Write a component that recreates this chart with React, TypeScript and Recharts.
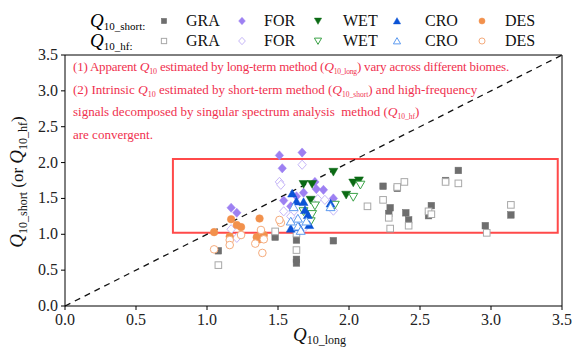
import React from 'react';
import { ScatterChart, Scatter, XAxis, YAxis, ReferenceLine, ReferenceArea } from 'recharts';

const TICKS = [0, 0.5, 1, 1.5, 2, 2.5, 3, 3.5];
const BIOMES = ['GRA', 'FOR', 'WET', 'CRO', 'DES'];

// [Q10_long, Q10_short] and [Q10_long, Q10_hf] per biome
const graShort = [[1.08, 0.77], [1.48, 0.96], [1.63, 0.92], [1.63, 0.65], [1.63, 0.6], [1.89, 0.91], [2.24, 1.67], [2.29, 1.37], [2.28, 1.29], [2.34, 1.64], [2.4, 1.3], [2.42, 1.2], [2.58, 1.4], [2.56, 1.26], [2.68, 1.75], [2.77, 1.89], [2.96, 1.12], [3.14, 1.27]];
const graHf = [[1.08, 0.57], [1.48, 1.04], [1.63, 1.01], [1.63, 0.78], [2.13, 1.39], [2.24, 1.48], [2.34, 1.66], [2.39, 1.73], [2.28, 1.23], [2.29, 1.08], [2.42, 1.12], [2.56, 1.32], [2.58, 1.28], [2.68, 1.73], [2.77, 1.71], [2.97, 1.02], [3.14, 1.41]];
const forShort = [[1.17, 1.37], [1.21, 1.3], [1.51, 2.1], [1.67, 2.14], [1.53, 1.92], [1.76, 1.73], [1.77, 1.63], [1.82, 1.62], [1.68, 1.58], [1.63, 1.53], [1.54, 1.47], [1.59, 1.39], [1.89, 1.5]];
const forHf = [[1.17, 1.07], [1.21, 0.95], [1.67, 1.97], [1.51, 1.73], [1.52, 1.69], [1.78, 1.49], [1.83, 1.48], [1.54, 1.32], [1.61, 1.32], [1.89, 1.33], [1.59, 1.25], [1.69, 1.1]];
const wetShort = [[1.89, 1.87], [1.68, 1.7], [1.74, 1.7], [1.73, 1.48], [2.03, 1.72], [2.07, 1.75], [1.98, 1.55]];
const wetHf = [[2.08, 1.69], [2.03, 1.52], [1.9, 1.41], [1.68, 1.32], [1.74, 1.28], [1.73, 1.18], [1.76, 1.4]];
const croShort = [[1.6, 1.57], [1.63, 1.46], [1.68, 1.45], [1.69, 1.34], [1.71, 1.27], [1.59, 1.08], [1.65, 1.1], [1.72, 1.13], [1.87, 1.43]];
const croHf = [[1.61, 1.38], [1.64, 1.22], [1.59, 1.18], [1.7, 1.18], [1.64, 1.11], [1.87, 1.38], [1.66, 1.05]];
const desShort = [[1.05, 1.03], [1.17, 1.21], [1.21, 1.13], [1.24, 1.1], [1.16, 0.97], [1.37, 1.22], [1.35, 0.96], [1.37, 0.93], [1.4, 0.99]];
const desHf = [[1.05, 0.79], [1.16, 0.92], [1.16, 0.85], [1.24, 0.99], [1.34, 0.87], [1.38, 1.06], [1.39, 0.74], [1.52, 1.16], [1.51, 1.2], [1.4, 0.93]];

const SHORT = [graShort, forShort, wetShort, croShort, desShort];
const HF = [graHf, forHf, wetHf, croHf, desHf];

const KINDS = ['square', 'diamond', 'down', 'up', 'circle'];
const FILL = ['#6e6e6e', '#9d80f2', '#0b6a14', '#0a52d6', '#f2914c'];
const LINE = ['#a8a8a8', '#c6b6f8', '#3aa246', '#5d9bf0', '#f5ab7c'];

const serif = '"Liberation Serif", "Times New Roman", serif';
const RED = '#f0304e';

const Marker = ({ cx, cy, kind, filled, color, s = 1 }: any) => {
  if (cx == null || cy == null) return null;
  const p = filled
    ? { fill: color, stroke: color, strokeWidth: 0.5 }
    : { fill: '#fff', stroke: color, strokeWidth: 1 };
  if (kind === 'square') return <rect x={cx - 3.3 * s} y={cy - 3.3 * s} width={6.6 * s} height={6.6 * s} {...p} />;
  if (kind === 'circle') return <circle cx={cx} cy={cy} r={3.8 * s} {...p} />;
  let pts = '';
  if (kind === 'diamond') pts = `${cx},${cy - 4.6 * s} ${cx + 4.2 * s},${cy} ${cx},${cy + 4.6 * s} ${cx - 4.2 * s},${cy}`;
  if (kind === 'down') pts = `${cx - 4.5 * s},${cy - 3.6 * s} ${cx + 4.5 * s},${cy - 3.6 * s} ${cx},${cy + 4.2 * s}`;
  if (kind === 'up') pts = `${cx - 4.5 * s},${cy + 3.6 * s} ${cx + 4.5 * s},${cy + 3.6 * s} ${cx},${cy - 4.2 * s}`;
  return <polygon points={pts} {...p} />;
};

const Q = ({ sub, size, subSize, drop = 4 }: any) => (
  <span style={{ fontSize: size, lineHeight: 1 }}>
    <i>Q</i>
    <span style={{ fontSize: subSize, position: 'relative', top: drop, lineHeight: 1 }}>{sub}</span>
  </span>
);

const toXY = (arr: number[][]) => arr.map(([x, y]) => ({ x, y }));

// serif tick labels drawn directly
const XTick = ({ x, y, payload }: any) => (
  <text x={x} y={y + 13} textAnchor="middle" fontFamily={serif} fontSize={16} fill="#222">{payload.value.toFixed(1)}</text>
);
const YTick = ({ x, y, payload }: any) => (
  <text x={x - 1} y={y + 5} textAnchor="end" fontFamily={serif} fontSize={16} fill="#222">{payload.value.toFixed(1)}</text>
);

const legendMarkX = [164, 242, 318, 397, 482];
const legendTextX = [186, 264, 343, 425, 505];

const lineStyle: React.CSSProperties = { height: 22.6, lineHeight: '22.6px' };

export default function App() {
  return (
    <div style={{ position: 'absolute', left: 0, top: 0, width: 579, height: 350, background: '#fff', fontFamily: serif }}>
      <ScatterChart width={579} height={350} margin={{ top: 55, right: 17, bottom: 14, left: 15 }}>
        <XAxis type="number" dataKey="x" domain={[0, 3.5]} ticks={TICKS} interval={0}
          height={30} tickSize={4} tick={<XTick />} axisLine={{ stroke: '#000' }} tickLine={{ stroke: '#000' }} allowDataOverflow />
        <YAxis type="number" dataKey="y" domain={[0, 3.5]} ticks={TICKS} interval={0}
          width={50} tickSize={4} tick={<YTick />} axisLine={{ stroke: '#000' }} tickLine={{ stroke: '#000' }} allowDataOverflow />
        <ReferenceLine y={3.5} stroke="#000" />
        <ReferenceLine x={3.5} stroke="#000" />
        <ReferenceArea x1={0.76} x2={3.47} y1={1.02} y2={2.05} fill="none" fillOpacity={0}
          stroke="#ff4a4a" strokeWidth={2} ifOverflow="visible" />
        <ReferenceLine segment={[{ x: 0, y: 0 }, { x: 3.5, y: 3.5 }]} stroke="#111" strokeWidth={1.3} strokeDasharray="6 5" />
        {BIOMES.map((b, i) => [
          <Scatter key={b + 's'} name={b + ' short'} data={toXY(SHORT[i])} isAnimationActive={false}
            shape={(p: any) => <Marker cx={p.cx} cy={p.cy} kind={KINDS[i]} filled color={FILL[i]} />} />,
          <Scatter key={b + 'h'} name={b + ' hf'} data={toXY(HF[i])} isAnimationActive={false}
            shape={(p: any) => <Marker cx={p.cx} cy={p.cy} kind={KINDS[i]} filled={false} color={LINE[i]} />} />,
        ])}
      </ScatterChart>

      {/* legend */}
      {[0, 1].map((row) => (
        <div key={row} style={{ position: 'absolute', left: 0, top: row === 0 ? 11 : 31, width: 579, height: 20 }}>
          <div style={{ position: 'absolute', left: 90, top: 0, whiteSpace: 'nowrap' }}>
            <Q sub={row === 0 ? '10_short:' : '10_hf:'} size={19} subSize={11} drop={3} />
          </div>
          {BIOMES.map((b, i) => (
            <React.Fragment key={b}>
              <svg style={{ position: 'absolute', left: legendMarkX[i] - 6, top: 4 }} width={12} height={12}>
                <Marker cx={6} cy={6} kind={KINDS[i]} filled={row === 0} color={row === 0 ? FILL[i] : LINE[i]} s={0.8} />
              </svg>
              <div style={{ position: 'absolute', left: legendTextX[i], top: 0, fontSize: 16, lineHeight: '20px', color: '#111' }}>{b}</div>
            </React.Fragment>
          ))}
        </div>
      ))}

      {/* annotation */}
      <div style={{ position: 'absolute', left: 73, top: 56, color: RED, fontSize: 13, whiteSpace: 'nowrap' }}>
        <div style={{ ...lineStyle, letterSpacing: -0.2 }}>(1) Apparent <Q sub="10" size={13.5} subSize={8} drop={3} /> estimated by long-term method (<Q sub="10_long" size={13.5} subSize={7.5} drop={3} />) vary across different biomes.</div>
        <div style={lineStyle}>(2) Intrinsic <Q sub="10" size={13.5} subSize={8} drop={3} /> estimated by short-term method (<Q sub="10_short" size={13.5} subSize={7.5} drop={3} />) and high-frequency</div>
        <div style={lineStyle}>signals decomposed by singular spectrum analysis &nbsp;method (<Q sub="10_hf" size={13.5} subSize={7.5} drop={3} />)</div>
        <div style={lineStyle}>are convergent.</div>
      </div>

      {/* x label */}
      <div style={{ position: 'absolute', left: 293, top: 325, whiteSpace: 'nowrap', color: '#111' }}>
        <Q sub="10_long" size={19} subSize={12} drop={3} />
      </div>
      {/* y label */}
      <div style={{ position: 'absolute', left: 17, top: 182, width: 0, height: 0 }}>
        <div style={{ position: 'absolute', transform: 'translate(-50%, -50%) rotate(-90deg)', whiteSpace: 'nowrap', color: '#111', fontSize: 17 }}>
          <Q sub="10_short" size={19} subSize={12} drop={4} /> (or <Q sub="10_hf" size={19} subSize={12} drop={4} />)
        </div>
      </div>
    </div>
  );
}
